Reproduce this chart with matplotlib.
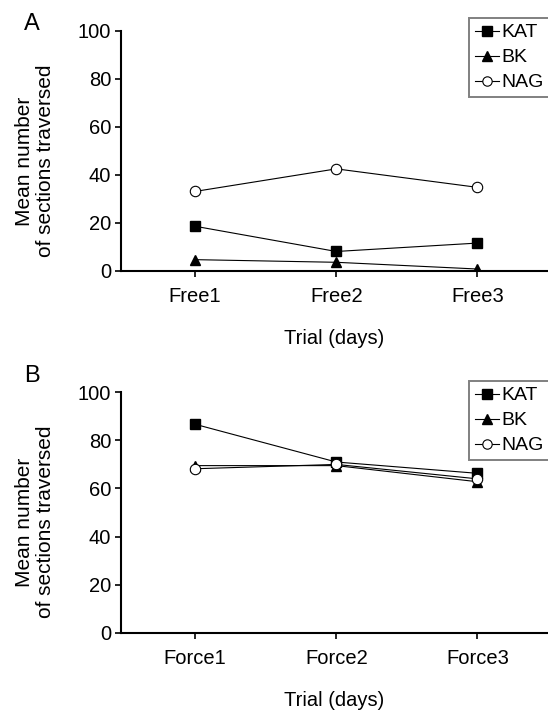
import matplotlib
matplotlib.use("Agg")
import matplotlib.pyplot as plt

plt.rcParams['font.family'] = ['Liberation Sans', 'DejaVu Sans']

free_days = ["Free1", "Free2", "Free3"]
force_days = ["Force1", "Force2", "Force3"]

kat_free = [18.5, 8.0, 11.5]
bk_free = [4.6, 3.5, 0.7]
nag_free = [33.0, 42.4, 34.7]

kat_force = [86.7, 71.0, 66.3]
bk_force = [69.5, 69.5, 62.8]
nag_force = [68.2, 70.0, 64.0]

W, H = 548, 712
fig = plt.figure(figsize=(W / 100, H / 100), dpi=100)

FS = 14.5


def panel(top_px, bottom_px, days, kat, bk, nag, letter, letter_top, leg_top, label_y):
    left = 121 / W
    rect = [left, (H - bottom_px) / H, 1 - left, (bottom_px - top_px) / H]
    ax = fig.add_axes(rect)
    x = range(len(days))
    ax.plot(x, kat, '-s', color='black', lw=0.8, ms=7.5, mfc='black', mec='black', label='KAT')
    ax.plot(x, bk, '-^', color='black', lw=0.8, ms=7.5, mfc='black', mec='black', label='BK')
    ax.plot(x, nag, '-o', color='black', lw=0.8, ms=7.5, mfc='white', mec='black', mew=0.8, label='NAG')
    ax.set_xlim(-0.525, 2.5)
    ax.set_ylim(0, 100)
    ax.set_yticks([0, 20, 40, 60, 80, 100])
    ax.set_xticks(list(x))
    ax.set_xticklabels(days)
    ax.spines['top'].set_visible(False)
    ax.spines['right'].set_visible(False)
    for s in ('left', 'bottom'):
        ax.spines[s].set_linewidth(1.5)
    ax.tick_params(axis='both', direction='out', length=4, width=1.2, labelsize=FS)
    ax.tick_params(axis='x', pad=8)
    ax.tick_params(axis='y', pad=3)
    ax.set_xlabel("Trial (days)", fontsize=FS, labelpad=16)
    ax.set_ylabel("Mean number\nof sections traversed", fontsize=15, linespacing=1.1)
    ax.yaxis.label.set_va('center')
    ax.yaxis.set_label_coords(-0.201, label_y)
    fig.text(24 / W, 1 - letter_top / H, letter, fontsize=17, ha='left', va='top')
    leg = ax.legend(loc='upper left', bbox_to_anchor=(469 / W, 1 - leg_top / H), bbox_transform=fig.transFigure,
                    fancybox=False, edgecolor='#808080', framealpha=1, fontsize=14,
                    handlelength=1.25, handletextpad=0.1, borderpad=0.3, labelspacing=0.38,
                    borderaxespad=0, markerscale=0.9)
    leg.get_frame().set_linewidth(1.4)
    return ax


panel(30.5, 270.7, free_days, kat_free, bk_free, nag_free, "A", 13, 18, 0.456)
panel(392.3, 632.7, force_days, kat_force, bk_force, nag_force, "B", 365, 381, 0.46)

fig.savefig("out.png", dpi=100)
